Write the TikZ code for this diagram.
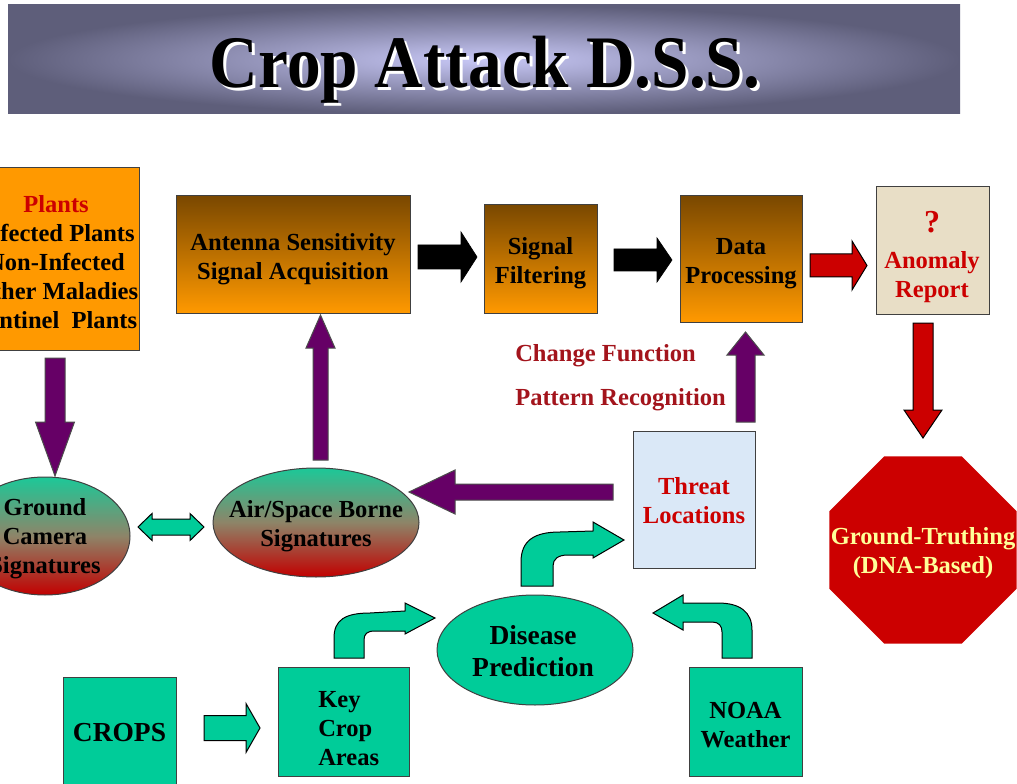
\documentclass[tikz,border=0pt]{standalone}
\usepackage{fontspec}
\setmainfont{Liberation Serif}
\usetikzlibrary{shapes.geometric}

\definecolor{orng}{HTML}{FF9900}
\definecolor{brwn}{HTML}{7A4800}
\definecolor{teal2}{HTML}{00CC99}
\definecolor{purp}{HTML}{660066}
\definecolor{redd}{HTML}{CC0000}
\definecolor{maroontxt}{HTML}{A3141C}
\definecolor{yell}{HTML}{FFFF99}
\definecolor{skyb}{HTML}{DAE8F7}
\definecolor{parch}{HTML}{E8DEC6}
\definecolor{bandout}{HTML}{5E5E7A}
\definecolor{bandin}{HTML}{C8C8F6}
\definecolor{ellmid}{HTML}{8E8468}
\definecolor{elltop}{HTML}{1CC898}

% horizontal block arrow: style, x start, x head base, x tip, y centre, shaft half, head half
\newcommand\harrow[7]{\draw[#1] ({#2},{#5-#6}) -- ({#3},{#5-#6}) -- ({#3},{#5-#7}) -- ({#4},{#5}) -- ({#3},{#5+#7}) -- ({#3},{#5+#6}) -- ({#2},{#5+#6}) -- cycle;}
% vertical block arrow: style, y start, y head base, y tip, x centre, shaft half, head half
\newcommand\varrow[7]{\draw[#1] ({#5-#6},{#2}) -- ({#5-#6},{#3}) -- ({#5-#7},{#3}) -- ({#5},{#4}) -- ({#5+#7},{#3}) -- ({#5+#6},{#3}) -- ({#5+#6},{#2}) -- cycle;}
% rectangular node from its corners: options, name, x1, y1, x2, y2
\newcommand\boxnode[6][]{\node[#1, inner sep=0pt, minimum width={(#5-#3)*0.75pt}, minimum height={(#6-#4)*0.75pt}] (#2) at ({(#3+#5)/2},{(#4+#6)/2}) {};}

\begin{document}
\begin{tikzpicture}[x=0.75pt,y=-0.75pt, line join=miter,
  txt/.style={font=\fontsize{18.4}{21.75}\selectfont\bfseries, align=center, inner sep=0pt},
  bigtxt/.style={font=\fontsize{20.6}{24}\selectfont\bfseries, align=center, inner sep=0pt},
  edge/.style={draw=black!75, line width=0.75pt},
  gradbox/.style={edge, top color=brwn, bottom color=orng},
  tealbox/.style={edge, fill=teal2},
  ellsh/.style={ellipse, edge, inner sep=0pt, top color=elltop, bottom color=redd!95!black, middle color=ellmid},
  blkarr/.style={fill=black, draw=black, line width=0.5pt},
  redarr/.style={fill=redd, draw=black, line width=0.75pt},
  purarr/.style={fill=purp, draw=black!70, line width=0.75pt},
  tealarr/.style={fill=teal2, draw=black, line width=0.75pt}]

\useasboundingbox (0,0) rectangle (1017,784);
\clip (0,0) rectangle (1017,784);
\fill[white] (0,0) rectangle (1017,784);

% title band
\shade[inner color=bandin, outer color=bandout] (8,5) rectangle (960,114);
\node[font=\fontsize{50.5}{60}\selectfont\bfseries, text=white, anchor=base, inner sep=0pt] (titleshadow) at (488,91) {\scalebox{1}[1.1]{Crop Attack D.S.S.}};
\node[font=\fontsize{50.5}{60}\selectfont\bfseries, text=black, anchor=base, inner sep=0pt] (title) at (485,88) {\scalebox{1}[1.1]{Crop Attack D.S.S.}};

% top row of process boxes
\boxnode[edge, fill=orng]{plants}{-27}{168}{139}{350}
\node[txt] (plantstxt) at (56,262) {{\color{redd}Plants}\\Infected Plants\\Non-Infected\\Other Maladies\\Sentinel~~Plants};
\boxnode[gradbox]{ant}{176}{196}{410}{313}
\node[txt] (anttxt) at (293,259) {Antenna Sensitivity\\Signal Acquisition};
\boxnode[gradbox]{filt}{484}{205}{597}{313}
\node[txt] (filttxt) at (540.5,263) {Signal\\Filtering};
\boxnode[gradbox]{proc}{680}{196}{802}{322}
\node[txt] (proctxt) at (741,264) {Data\\Processing};
\boxnode[edge, fill=parch]{anom}{876}{187}{989}{314}
\node[font=\fontsize{24}{28}\selectfont\bfseries, text=redd, inner sep=0pt] (qmark) at (932,222) {?};
\node[txt, text=redd] (anomtxt) at (932,277) {Anomaly\\Report};

% arrows along the top row
\harrow{blkarr}{418}{461}{477}{257}{12}{25}
\harrow{blkarr}{614}{657}{672}{260}{11}{22}
\harrow{redarr}{810}{852}{867}{265.5}{11.5}{24.5}
\varrow{redarr}{323}{410}{438}{923}{10}{19}

% ground truthing octagon
\node[regular polygon, regular polygon sides=8, minimum size=152pt, inner sep=0pt, fill=redd] (gt) at (923,550) {};
\node[txt, text=yell] (gttxt) at (923,553) {Ground-Truthing\\(DNA-Based)};

% analysis labels
\node[txt, text=maroontxt, anchor=west] (chg) at (515,356) {Change Function};
\node[txt, text=maroontxt, anchor=west] (pat) at (515,400) {Pattern Recognition};

% threat locations
\boxnode[edge, fill=skyb]{threat}{633}{431}{755}{568}
\node[txt, text=redd] (threattxt) at (694,501) {Threat\\Locations};
\varrow{purarr}{422}{355}{332}{745.5}{9.5}{18.5}
\harrow{purarr}{613}{455}{409}{492}{8}{22}

% signature ellipses
\node[ellsh, minimum width=127.5pt, minimum height=88.5pt] (gc) at (45,536) {};
\node[txt] (gctxt) at (45,539) {Ground\\Camera\\Signatures};
\node[ellsh, minimum width=154.5pt, minimum height=81.75pt] (air) at (316,522.5) {};
\node[txt] (airtxt) at (316,526) {Air/Space Borne\\Signatures};

\varrow{purarr}{358}{422}{476}{55}{10}{19.5}
\varrow{purarr}{460}{348}{315}{320.5}{7.5}{14.5}
\draw[tealarr] (138,527) -- (152,513.5) -- (152,519) -- (190,519) -- (190,513.5) -- (204,527)
  -- (190,540.5) -- (190,535) -- (152,535) -- (152,540.5) -- cycle;

% disease prediction chain
\node[ellipse, edge, fill=teal2, inner sep=0pt, minimum width=147pt, minimum height=82.5pt] (dis) at (535,650) {};
\node[bigtxt] (distxt) at (533,651) {Disease\\Prediction};

\boxnode[tealbox]{crops}{63}{677}{176}{790}
\node[bigtxt] (cropstxt) at (119.5,733) {CROPS};
\boxnode[tealbox]{key}{278}{667}{409}{776}
\node[txt, align=left, anchor=west] (keytxt) at (318,729) {Key\\Crop\\Areas};
\boxnode[tealbox]{noaa}{689}{667}{802}{776}
\node[txt] (noaatxt) at (745.5,725) {NOAA\\Weather};

\harrow{tealarr}{204}{246}{260}{728}{12.5}{24.5}

% bent arrows
\draw[tealarr] (334,658) -- (334,638) .. controls (334,620) and (345,613) .. (370,613) -- (405,611)
  -- (405,603) -- (435,618) -- (405,634) -- (405,631) -- (375,631)
  .. controls (367,631) and (364,634) .. (364,640) -- (364,658) -- cycle;
\draw[tealarr] (521,586) -- (521,562) .. controls (521,540) and (535,532) .. (560,532) -- (593,531)
  -- (593,522) -- (624,540) -- (593,558) -- (593,555) -- (568,555)
  .. controls (558,555) and (553,559) .. (553,566) -- (553,586) -- cycle;
\draw[tealarr] (752,658) -- (752,630) .. controls (752,612) and (740,603) .. (718,603) -- (683,603)
  -- (683,595) -- (653,613) -- (683,630) -- (683,622) -- (712,622)
  .. controls (719,622) and (722,626) .. (722,632) -- (722,658) -- cycle;

\end{tikzpicture}
\end{document}
